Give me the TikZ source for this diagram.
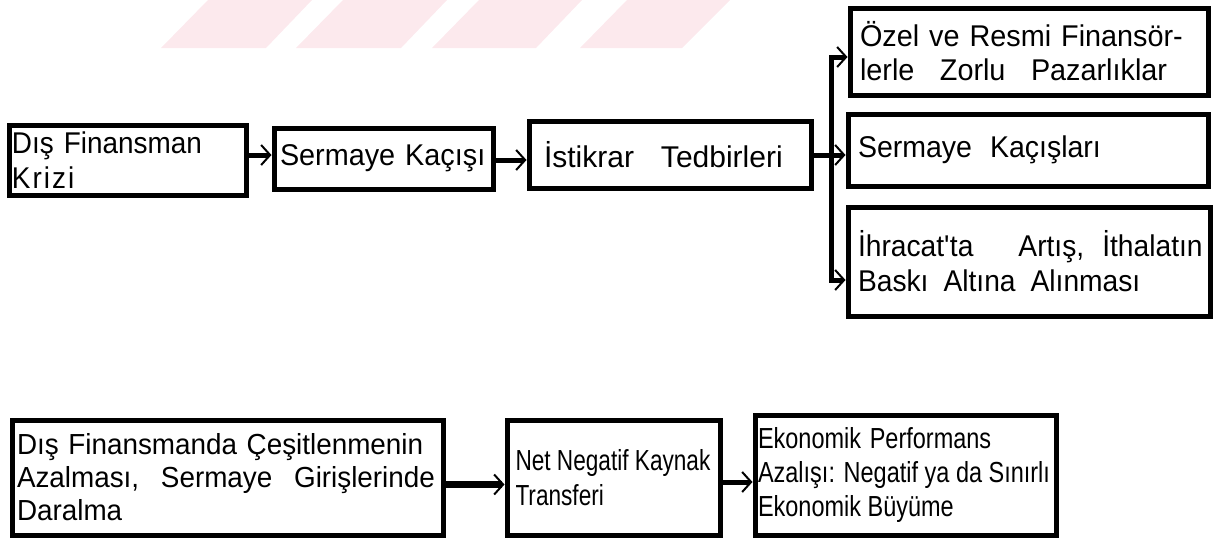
\documentclass[tikz,border=0pt]{standalone}
\usepackage{fontspec}
\setmainfont{Liberation Sans}
\usetikzlibrary{arrows.meta,calc}
\newcommand\tfont[3]{\fontsize{#2}{#3}\selectfont\addfontfeatures{FakeStretch=#1}}
\newcommand\tline[1]{\mbox{#1}}
\newcommand\nline[1]{\mbox{\spaceskip=0pt \xspaceskip=0pt #1}}
\begin{document}
\begin{tikzpicture}[x=1pt,y=-1pt,
  box/.style={draw, line width=5pt, inner sep=0pt, align=left},
  conn/.style={line width=5pt, -{Straight Barb[length=9pt,width=20pt,line width=2pt 0]}},
  plain/.style={line width=5pt},
  wm/.style={fill={rgb,255:red,252;green,233;blue,237}, draw=none}]
\useasboundingbox (0,0) rectangle (1217,542);
% faint watermark stripes
\fill[wm] (161,48) -- (208,0) -- (312,0) -- (266,48) -- cycle;
\fill[wm] (296,48) -- (343,0) -- (447,0) -- (401,48) -- cycle;
\fill[wm] (432,48) -- (479,0) -- (582,0) -- (536,48) -- cycle;
\fill[wm] (580,48) -- (627,0) -- (730,0) -- (682,48) -- cycle;
% top row
\node[box, minimum width=237pt, minimum height=70pt, text width=231pt,
  font=\tfont{0.93}{30}{35}] (A) at (127.5,160)
  {\tline{Dış Finansman}\\\tline{K\kern2pt r\kern2pt i\kern2pt z\kern2pt i}};
\node[box, minimum width=219pt, minimum height=61pt, text width=207pt,
  font=\tfont{0.96}{30}{34}] (B) at (383.5,158.5)
  {\tline{Sermaye Kaçışı}};
\node[box, minimum width=282pt, minimum height=67pt, text width=252pt,
  font=\tfont{1.0}{30}{34}] (C) at (670,154.5)
  {\tline{İstikrar\hspace{0.9em}Tedbirleri}};
\node[box, minimum width=358pt, minimum height=87pt, text width=338pt,
  font=\tfont{0.96}{30}{34}] (D) at (1029,51.5)
  {\tline{Özel ve Resmi Finansör-}\\\tline{lerle\hspace{0.85em}Zorlu\hspace{0.85em}Pazarlıklar}};
\node[box, minimum width=360pt, minimum height=72pt, text width=340pt,
  font=\tfont{0.95}{30}{34}] (E) at (1028,150)
  {\tline{Sermaye\hspace{0.6em}Kaçışları}};
\node[box, minimum width=362pt, minimum height=109pt, text width=342pt,
  font=\tfont{0.94}{30}{35}] (F) at (1029,261.5)
  {\tline{İhracat\textquotesingle ta\hspace{1.5em}Artış,\hspace{0.6em}İthalatın}\\\tline{Baskı\hspace{0.5em}Altına\hspace{0.5em}Alınması}};
% bottom row
\node[box, minimum width=431pt, minimum height=115pt, text width=421pt,
  font=\tfont{0.96}{29}{33}] (G) at (227.5,477.5)
  {\tline{Dış Finansmanda Çeşitlenmenin}\\\tline{Azalması,\hspace{0.75em}Sermaye\hspace{0.75em}Girişlerinde}\\\tline{Daralma}};
\node[box, minimum width=213pt, minimum height=115pt, text width=196pt,
  font=\tfont{0.78}{29}{35}] (H) at (613.5,477.5)
  {\nline{Net Negatif Kaynak}\\\nline{Transferi}};
\node[box, minimum width=301pt, minimum height=120pt, text width=295pt,
  font=\tfont{0.81}{29}{34}] (I) at (905.5,475)
  {\nline{Ekonomik\hspace{0.3em}Performans}\\\nline{Azalışı: Negatif ya da Sınırlı}\\\nline{Ekonomik Büyüme}};
% connectors
\coordinate (J) at (831,155);
\draw[conn] ($(A.east)+(0,-5)$) -- ($(B.west)+(0,-3.5)$);
\draw[conn] ($(B.east)+(0,1.5)$) -- ($(C.west)+(0,5.5)$);
\draw[plain] ($(C.east)+(0,0.5)$) -- (J);
\draw[conn] (J) -- ($(E.west)+(0,5)$);
\draw[conn] (J) |- ($(D.west)+(0,5.5)$);
\draw[conn] (J) |- ($(F.west)+(0,18.5)$);
\draw[conn, line width=6.5pt] ($(G.east)+(0,7)$) -- ($(H.west)+(0,7)$);
\draw[conn] ($(H.east)+(0,4.5)$) -- ($(I.west)+(0,7)$);
\end{tikzpicture}
\end{document}
